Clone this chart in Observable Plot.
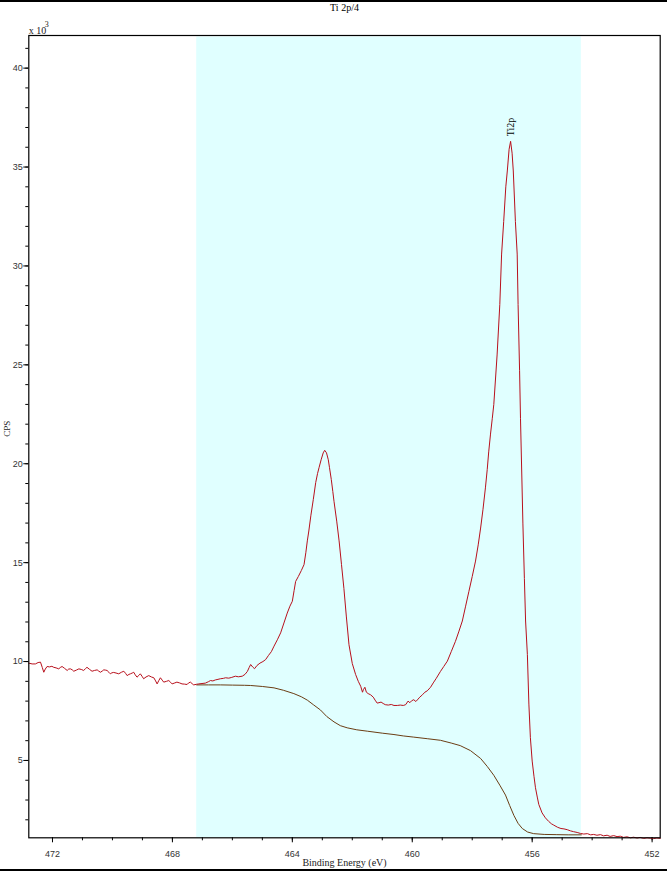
<!DOCTYPE html>
<html>
<head>
<meta charset="utf-8">
<script src="https://cdn.jsdelivr.net/npm/d3@7"></script>
<script src="https://cdn.jsdelivr.net/npm/@observablehq/plot@0.6"></script>
<style>
  html, body { margin: 0; padding: 0; background: #fff; overflow: hidden; }
  #wrap { position: relative; width: 667px; height: 871px; }
  .hline { position: absolute; left: 0; width: 667px; height: 2px; background: #000; }
</style>
</head>
<body>
<div id="wrap">
  <div id="chart"></div>
  <div class="hline" style="top:0px"></div>
  <div class="hline" style="top:869px"></div>
</div>
<script>
// Measured spectrum: binding energy (eV) and counts (x 10^3 CPS)
const be = [
  472.79,472.68,472.57,472.48,472.40,472.34,472.29,472.24,472.18,472.10,472.02,471.96,471.88,471.79,471.74,471.68,
  471.60,471.51,471.46,471.40,471.34,471.29,471.20,471.12,471.04,470.96,470.90,470.85,470.76,470.68,470.60,470.51,
  470.46,470.40,470.34,470.29,470.24,470.18,470.12,470.07,470.02,469.96,469.88,469.79,469.70,469.62,469.56,469.51,
  469.45,469.40,469.34,469.29,469.24,469.18,469.12,469.07,469.01,468.96,468.88,468.79,468.70,468.62,468.56,468.51,
  468.45,468.40,468.34,468.29,468.20,468.12,468.06,468.01,467.92,467.85,467.76,467.68,467.60,467.51,467.46,467.40,
  467.34,467.29,467.20,467.12,466.90,466.80,466.73,466.65,466.57,466.48,466.40,466.30,466.23,466.12,466.02,465.90,
  465.80,465.67,465.58,465.50,465.44,465.39,465.32,465.26,465.18,465.08,464.98,464.89,464.80,464.70,464.61,464.50,
  464.39,464.28,464.17,464.08,464.00,463.94,463.89,463.80,463.70,463.61,463.55,463.50,463.45,463.38,463.30,463.22,
  463.16,463.11,463.04,462.97,462.92,462.86,462.80,462.76,462.70,462.65,462.61,462.52,462.44,462.36,462.28,462.20,
  462.11,462.00,461.89,461.80,461.72,461.66,461.63,461.58,461.53,461.47,461.39,461.30,461.24,461.17,461.11,461.04,
  460.97,460.90,460.80,460.70,460.61,460.50,460.40,460.30,460.22,460.14,460.08,460.02,459.95,459.88,459.83,459.75,
  459.66,459.58,459.50,459.39,459.30,459.20,459.06,458.95,458.83,458.70,458.56,458.45,458.33,458.22,458.11,458.00,
  457.89,457.80,457.72,457.64,457.56,457.50,457.45,457.39,457.33,457.28,457.17,457.08,457.02,456.95,456.88,456.83,
  456.77,456.72,456.67,456.63,456.56,456.50,456.47,456.42,456.39,456.31,456.26,456.22,456.16,456.11,456.06,456.00,
  455.94,455.89,455.83,455.78,455.67,455.56,455.45,455.36,455.28,455.15,455.04,454.94,454.83,454.72,454.62,454.50,
  454.39,454.28,454.16,454.05,453.95,453.84,453.72,453.62,453.50,453.40,453.28,453.17,453.06,452.95,452.84,452.72,
  452.62,452.50,452.40,452.28,452.17,452.06,451.95,451.84,451.73
];
const cps = [
  9.92,9.88,9.88,9.95,9.97,9.70,9.46,9.62,9.75,9.73,9.76,9.71,9.68,9.63,9.70,9.75,
  9.66,9.55,9.62,9.63,9.58,9.51,9.57,9.63,9.60,9.55,9.64,9.71,9.60,9.51,9.55,9.58,
  9.52,9.46,9.52,9.58,9.57,9.55,9.46,9.38,9.43,9.45,9.42,9.38,9.46,9.51,9.40,9.29,
  9.35,9.38,9.42,9.46,9.33,9.21,9.30,9.38,9.25,9.13,9.22,9.29,9.22,9.18,9.02,8.87,
  9.05,9.18,9.06,8.96,9.00,9.04,8.95,8.87,8.92,8.96,8.92,8.87,8.86,8.84,8.92,8.96,
  8.88,8.82,8.85,8.87,8.91,8.98,9.04,9.02,9.07,9.10,9.13,9.15,9.18,9.16,9.20,9.26,
  9.23,9.26,9.35,9.50,9.70,9.85,9.72,9.64,9.80,9.92,10.00,10.10,10.30,10.50,10.78,11.10,
  11.45,11.95,12.45,12.80,13.05,13.60,14.05,14.30,14.60,14.90,15.50,16.10,16.60,17.40,18.20,19.05,
  19.50,19.80,20.20,20.55,20.68,20.55,20.20,19.80,19.20,18.60,18.10,17.10,16.10,14.90,13.70,12.30,
  10.85,9.90,9.35,9.00,8.75,8.45,8.58,8.70,8.45,8.38,8.32,8.20,8.05,7.90,7.92,7.95,
  7.88,7.82,7.80,7.83,7.78,7.78,7.80,7.78,7.82,8.00,7.92,8.02,8.07,7.98,8.06,8.20,
  8.32,8.45,8.52,8.70,8.92,9.15,9.50,9.75,10.02,10.50,11.02,11.50,12.05,12.80,13.55,14.30,
  15.08,15.90,16.75,17.70,18.78,19.70,20.60,21.50,22.30,23.00,25.50,28.05,30.60,32.25,34.00,34.80,
  35.90,36.30,35.70,34.80,32.25,30.60,28.05,24.70,22.30,17.00,14.20,12.05,10.35,7.85,6.15,4.97,
  4.20,3.62,3.15,2.78,2.35,2.10,1.92,1.80,1.73,1.62,1.56,1.54,1.50,1.44,1.40,1.36,
  1.31,1.28,1.30,1.24,1.26,1.22,1.25,1.19,1.22,1.16,1.20,1.15,1.17,1.11,1.14,1.09,
  1.12,1.08,1.11,1.06,1.09,1.07,1.05,1.08,1.06
];
// Background (Shirley-type) curve
const bgBE = [
  467.19,466.80,466.40,466.00,465.60,465.39,465.00,464.61,464.30,463.95,463.70,463.50,463.30,463.06,462.85,462.61,
  462.40,462.17,461.85,461.50,461.00,460.61,460.30,459.95,459.50,459.06,458.70,458.40,458.06,457.72,457.50,457.28,
  457.08,456.89,456.75,456.61,456.47,456.33,456.15,455.95,455.60,455.20,454.80,454.36
];
const bgCPS = [
  8.82,8.82,8.82,8.81,8.80,8.79,8.74,8.67,8.55,8.38,8.22,8.05,7.82,7.55,7.22,6.95,
  6.76,6.65,6.55,6.48,6.38,6.31,6.24,6.18,6.10,6.02,5.88,5.75,5.50,5.10,4.70,4.25,
  3.75,3.25,2.72,2.22,1.82,1.56,1.38,1.30,1.26,1.25,1.24,1.24
];
const region = [467.19, 454.36];           // highlighted region
const xMajor = [472, 468, 464, 460, 456, 452];
const xMinor = d3.range(452, 473, 1);
const yMajor = [5, 10, 15, 20, 25, 30, 35, 40];
const yMinor = d3.range(2, 42, 1);
const peak = {be: 456.72, cps: 36.30, label: "Ti2p"};

const spectrum = be.map((b, i) => ({be: b, cps: cps[i]}));
const background = bgBE.map((b, i) => ({be: b, cps: bgCPS[i]}));

const serif = "'Liberation Serif', 'Times New Roman', serif";
const sans = "'Liberation Sans', Arial, sans-serif";

const chart = Plot.plot({
  width: 667,
  height: 871,
  marginLeft: 28.3,
  marginRight: 7.3,
  marginTop: 35,
  marginBottom: 33.7,
  style: {fontFamily: sans, fontSize: "9px", background: "transparent", color: "#222"},
  x: {domain: [472.79, 451.73], label: null},
  y: {domain: [1.09, 41.65], label: null},
  marks: [
    Plot.rect([region], {x1: d => d[0], x2: d => d[1], fill: "#e0ffff", insetTop: 1.5}),
    Plot.axisX(xMinor, {tickSize: 3, text: null, stroke: "#000", label: null}),
    Plot.axisX(xMajor, {tickSize: 5, tickPadding: 8, tickFormat: d => String(d), stroke: "#000", fill: "#333", fontSize: 9, label: null}),
    Plot.axisY(yMinor, {tickSize: 3, text: null, stroke: "#000", label: null}),
    Plot.axisY(yMajor, {tickSize: 5, tickPadding: 1, tickFormat: d => String(d), stroke: "#000", fill: "#333", fontSize: 9, label: null}),
    Plot.line(background, {x: "be", y: "cps", stroke: "#6b3d14", strokeWidth: 1}),
    Plot.line(spectrum, {x: "be", y: "cps", stroke: "#b8101c", strokeWidth: 1}),
    Plot.text([peak], {x: "be", y: "cps", text: "label", rotate: -90, textAnchor: "start", dy: -5, fontFamily: serif, fontSize: 10, fill: "#000"}),
    Plot.frame({stroke: "#000", strokeWidth: 1.2}),
    Plot.text(["Ti 2p/4"], {frameAnchor: "top", dy: -28, lineAnchor: "middle", fontFamily: serif, fontSize: 10, fill: "#000"}),
    Plot.text(["x 10"], {frameAnchor: "top-left", dy: -2, lineAnchor: "bottom", textAnchor: "start", fontFamily: serif, fontSize: 10, fill: "#222"}),
    Plot.text(["3"], {frameAnchor: "top-left", dx: 16, dy: -9, lineAnchor: "bottom", textAnchor: "start", fontFamily: serif, fontSize: 8, fill: "#222"}),
    Plot.text(["CPS"], {frameAnchor: "left", dx: -22, rotate: -90, lineAnchor: "middle", fontFamily: serif, fontSize: 9, fill: "#222"}),
    Plot.text(["Binding Energy (eV)"], {frameAnchor: "bottom", dy: 25, lineAnchor: "middle", fontFamily: serif, fontSize: 10, fill: "#222"})
  ]
});
document.getElementById("chart").appendChild(chart);
</script>
</body>
</html>
